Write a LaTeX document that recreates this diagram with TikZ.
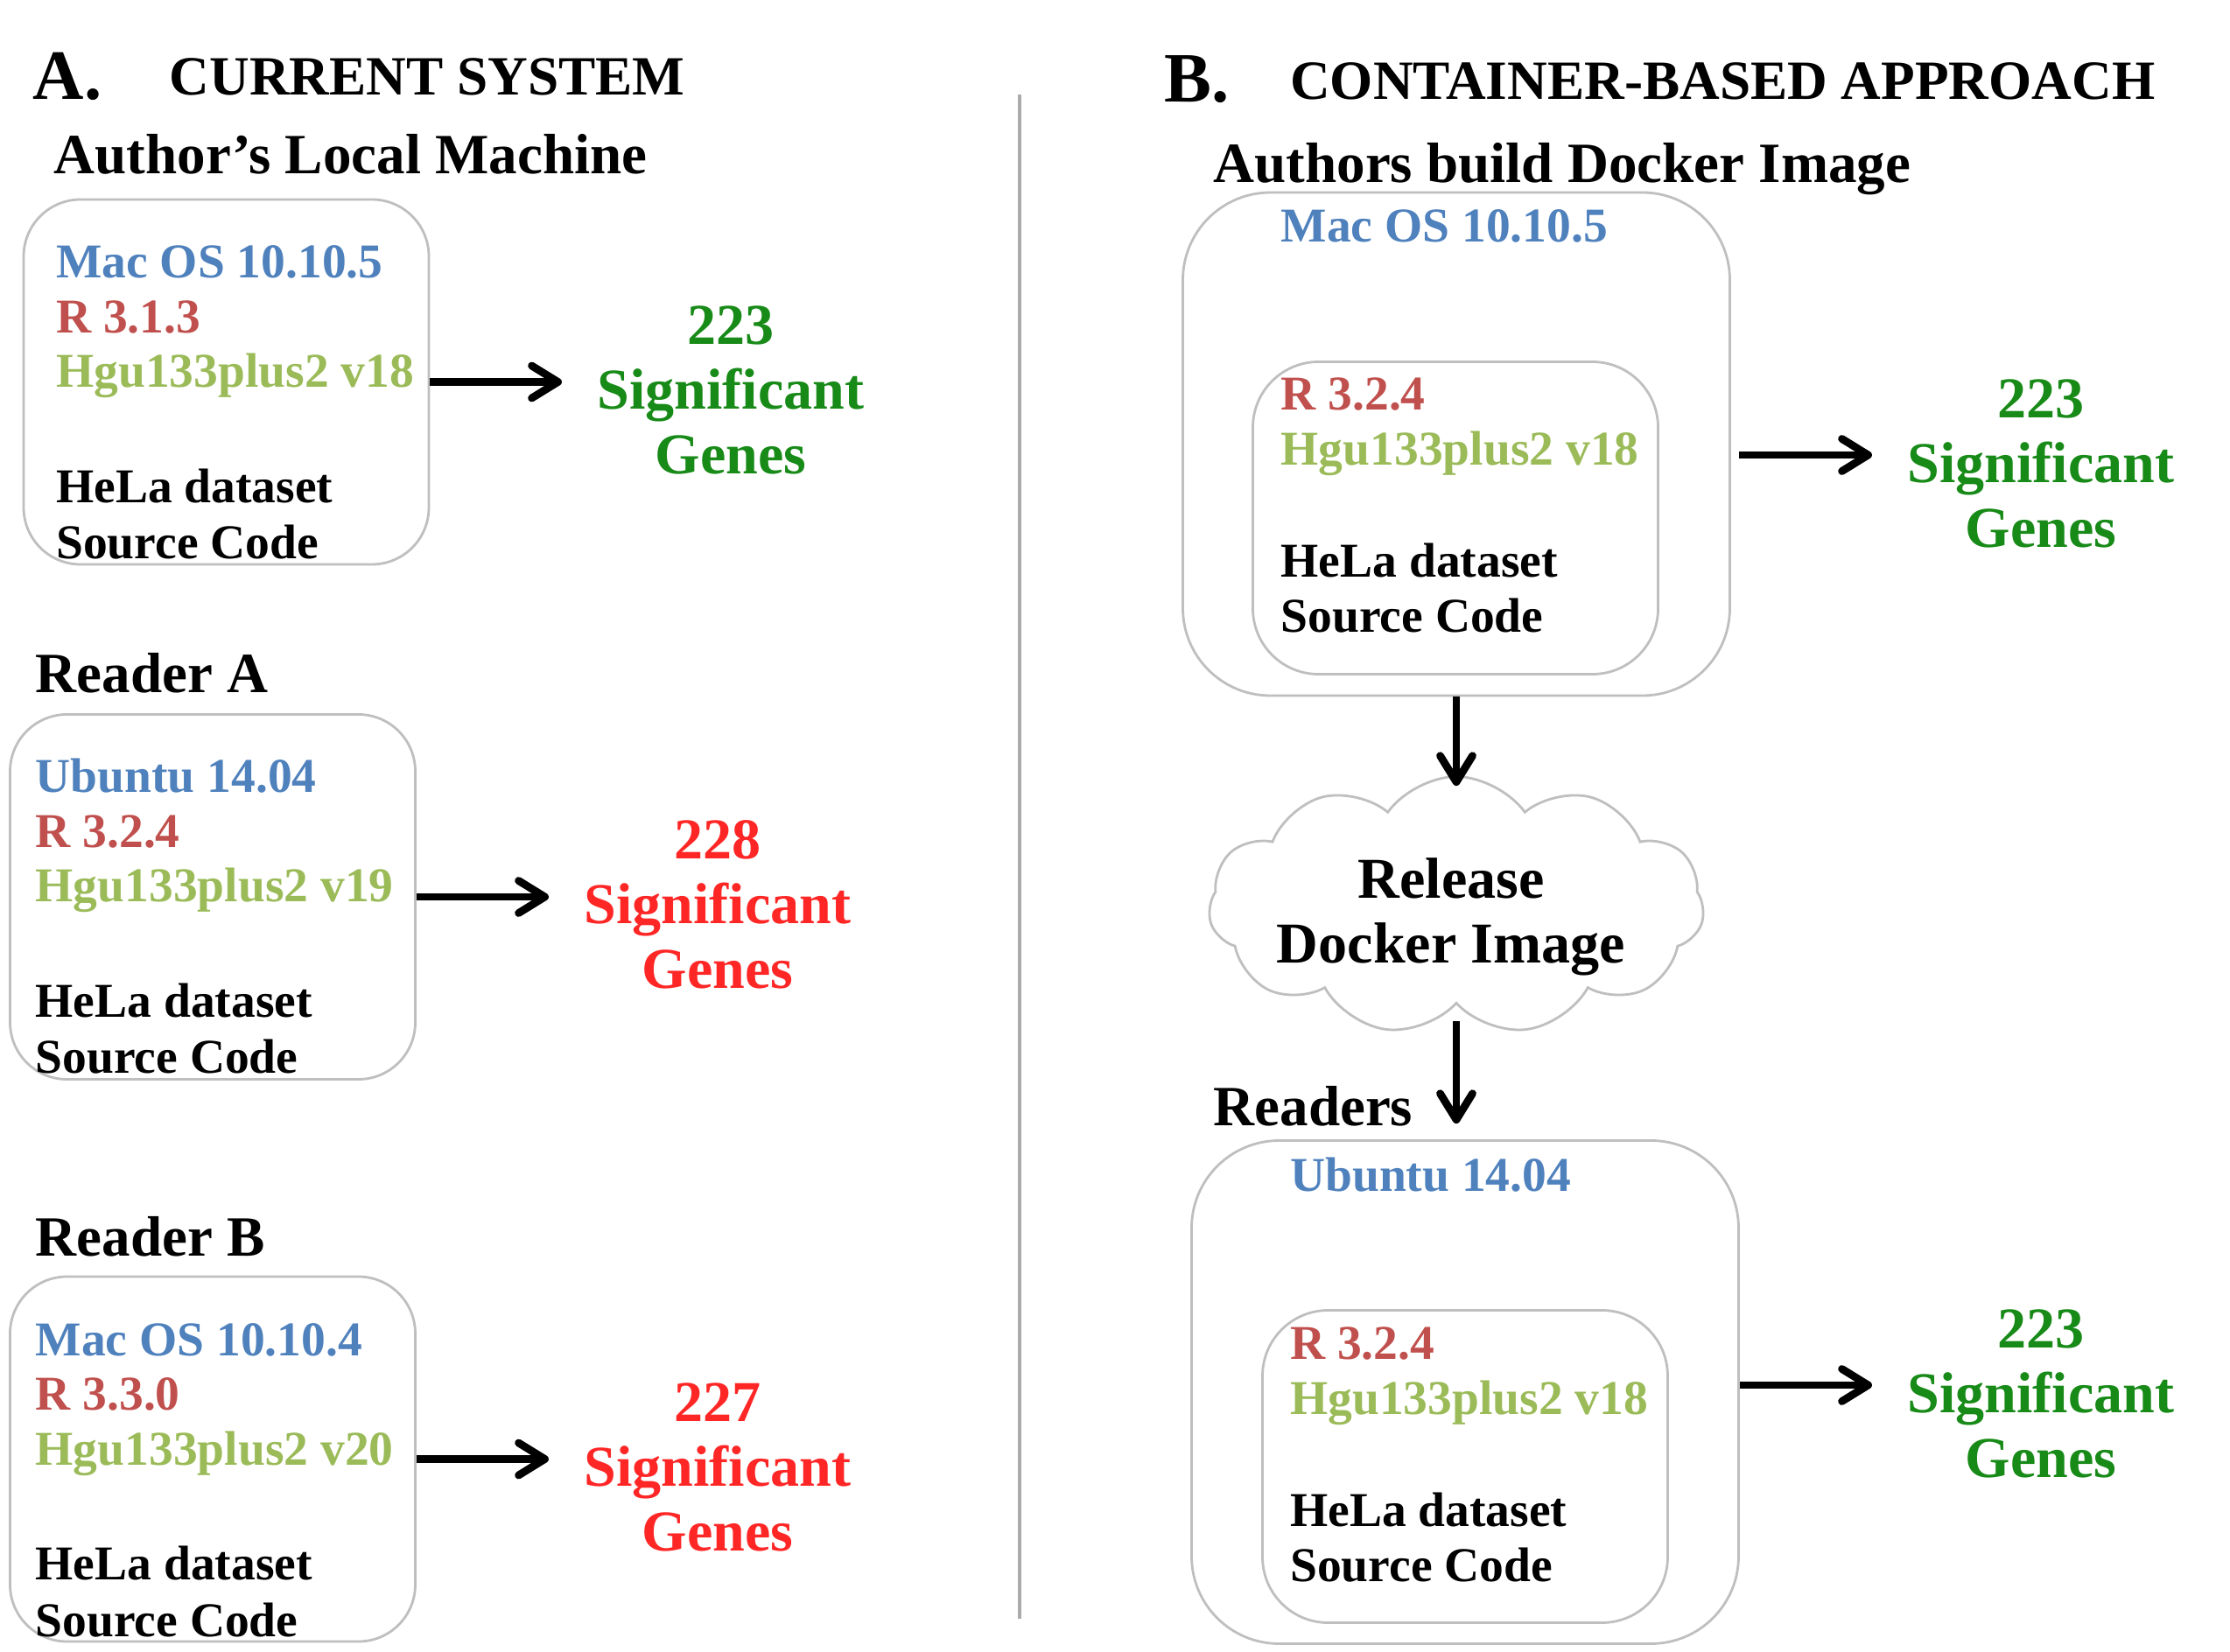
\documentclass[tikz,border=0pt]{standalone}
\usepackage{fontspec}
\setmainfont{Liberation Serif}
\usetikzlibrary{positioning, shapes.symbols, arrows.meta}
\definecolor{osblue}{HTML}{4F81BD}
\definecolor{rred}{HTML}{C0504D}
\definecolor{pkggreen}{HTML}{9BBB59}
\definecolor{goodgreen}{HTML}{178A17}
\definecolor{badred}{HTML}{FF2626}
\definecolor{boxgray}{HTML}{BFBFBF}
\definecolor{dividergray}{HTML}{ABABAB}
\newcommand{\envfont}{\fontsize{15.8}{17.8}\selectfont\bfseries}
\newcommand{\hdfont}{\fontsize{18.5}{22}\selectfont\bfseries}
\newcommand{\capfont}{\fontsize{18}{22}\selectfont\bfseries}
\newcommand{\bigfont}{\fontsize{23}{27}\selectfont\bfseries}
\newcommand{\resfont}{\fontsize{18.8}{21}\selectfont\bfseries}

\begin{document}
\begin{tikzpicture}[font=\envfont]
  \tikzset{
    machine/.style={rectangle, rounded corners=0.65cm, draw=boxgray, line width=0.8pt, minimum width=4.63cm, minimum height=4.17cm, inner sep=0pt},
    docker/.style={machine, rounded corners=1cm, minimum width=6.25cm, minimum height=5.75cm},
    image/.style={machine, rounded corners=0.75cm, minimum width=4.63cm, minimum height=3.57cm},
    env/.style={anchor=north west, align=left, inner sep=0pt, font=\envfont},
    title/.style={anchor=base west, inner sep=0pt, font=\hdfont},
    count/.style={anchor=north, align=center, inner sep=0pt, font=\resfont},
    arrow/.style={-{Straight Barb[length=3mm, width=3.7mm, round]}, line width=2.5pt},
  }
  \useasboundingbox (0,0) rectangle (25.48,-18.88);

  % A. current system
  \node[title, font=\bigfont] (alabel) at (0.37,-1.14) {A.};
  \node[title, font=\capfont] (atitle) at (1.93,-1.09) {CURRENT SYSTEM};

  \node[title] (authlabel) at (0.61,-1.99) {Author’s Local Machine};
  \node[machine] (authbox) at (2.585,-4.365) {};
  \node[env] (authenv) at (0.635,-2.80) {\textcolor{osblue}{Mac OS 10.10.5}\\ \textcolor{rred}{R 3.1.3}\\ \textcolor{pkggreen}{Hgu133plus2 v18}\\[6.9mm] HeLa dataset\\[0.2mm] Source Code};
  \node[count, goodgreen] (authres) at (8.35,-3.49) {223\\ Significant\\ Genes};

  \node[title] (readalabel) at (0.40,-7.91) {Reader A};
  \node[machine] (readabox) at (2.43,-10.25) {};
  \node[env] (readaenv) at (0.40,-8.665) {\textcolor{osblue}{Ubuntu 14.04}\\ \textcolor{rred}{R 3.2.4}\\ \textcolor{pkggreen}{Hgu133plus2 v19}\\[6.9mm] HeLa dataset\\[0.2mm] Source Code};
  \node[count, badred] (readares) at (8.20,-9.37) {228\\ Significant\\ Genes};

  \node[title] (readblabel) at (0.40,-14.35) {Reader B};
  \node[machine] (readbbox) at (2.43,-16.675) {};
  \node[env] (readbenv) at (0.40,-15.115) {\textcolor{osblue}{Mac OS 10.10.4}\\ \textcolor{rred}{R 3.3.0}\\ \textcolor{pkggreen}{Hgu133plus2 v20}\\[6.9mm] HeLa dataset\\[0.2mm] Source Code};
  \node[count, badred] (readbres) at (8.20,-15.80) {227\\ Significant\\ Genes};

  \draw[arrow, shorten >=4mm] (authbox.east) -- (authbox.east -| authres.west);
  \draw[arrow, shorten >=4mm] (readabox.east) -- (readabox.east -| readares.west);
  \draw[arrow, shorten >=4mm] (readbbox.east) -- (readbbox.east -| readbres.west);

  % divider
  \draw[dividergray, line width=1.1pt] (11.65,-1.08) -- (11.65,-18.50);

  % B. container-based approach
  \node[title, font=\bigfont] (blabel) at (13.30,-1.165) {B.};
  \node[title, font=\capfont] (btitle) at (14.735,-1.14) {CONTAINER-BASED APPROACH};

  \node[title] (buildlabel) at (13.86,-2.09) {Authors build Docker Image};
  \node[docker] (dockbox) at (16.64,-5.075) {};
  \node[env, osblue] (dockos) at (14.63,-2.39) {Mac OS 10.10.5};
  \node[image] (dockimg) at (16.63,-5.92) {};
  \node[env] (dockenv) at (14.63,-4.31) {\textcolor{rred}{R 3.2.4}\\ \textcolor{pkggreen}{Hgu133plus2 v18}\\[6.6mm] HeLa dataset\\ Source Code};
  \node[count, goodgreen] (dockres) at (23.32,-4.33) {223\\ Significant\\ Genes};

  \node[cloud, cloud puffs=11, cloud puff arc=110, aspect=1.9, draw=boxgray, line width=0.8pt, minimum width=5.66cm, minimum height=2.95cm, inner sep=0pt] (release) at (16.64,-10.35) {};
  \node[count, anchor=center, black] (releasetxt) at (16.58,-10.475) {Release\\ Docker Image};

  \node[title] (readerslabel) at (13.86,-12.865) {Readers};
  \node[docker] (readbox) at (16.74,-15.91) {};
  \node[env, osblue] (reados) at (14.735,-13.22) {Ubuntu 14.04};
  \node[image] (readimg) at (16.74,-16.76) {};
  \node[env] (readenv) at (14.735,-15.16) {\textcolor{rred}{R 3.2.4}\\ \textcolor{pkggreen}{Hgu133plus2 v18}\\[6.6mm] HeLa dataset\\ Source Code};
  \node[count, goodgreen] (readres) at (23.32,-14.96) {223\\ Significant\\ Genes};

  \draw[arrow, shorten <=0.9mm, shorten >=4mm] ([yshift=-1.25mm]dockbox.east) -- ([yshift=-1.25mm]dockbox.east -| dockres.west);
  \draw[arrow, shorten >=4mm] ([yshift=0.8mm]readbox.east) -- ([yshift=0.8mm]readbox.east -| readres.west);
  \draw[arrow, shorten >=-1.2mm] (dockbox.south) -- (dockbox.south |- release.north);
  \draw[arrow, shorten >=1.8mm] ([yshift=-1.9mm]release.south) -- (release.south |- readbox.north);

\end{tikzpicture}
\end{document}
